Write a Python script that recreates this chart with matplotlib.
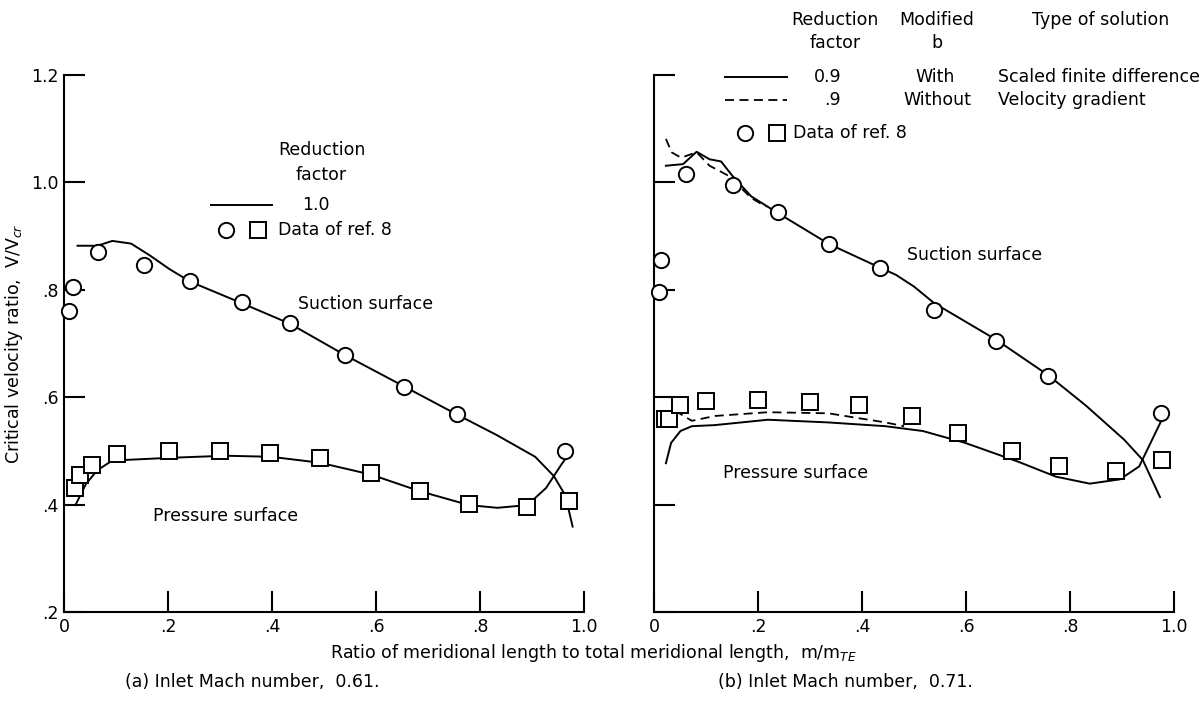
import matplotlib.pyplot as plt
from matplotlib.lines import Line2D

plt.rcParams['font.family'] = ['DejaVu Sans']

# ---- data, panel (a): inlet Mach 0.61 ----
a_circ_x = [0.009, 0.018, 0.065, 0.153, 0.243, 0.342, 0.434, 0.541, 0.654, 0.755, 0.964]
a_circ_y = [0.760, 0.806, 0.871, 0.846, 0.817, 0.778, 0.739, 0.679, 0.619, 0.568, 0.500]
a_sq_x = [0.022, 0.030, 0.054, 0.102, 0.202, 0.300, 0.396, 0.492, 0.590, 0.684, 0.779, 0.891, 0.972]
a_sq_y = [0.431, 0.456, 0.474, 0.495, 0.500, 0.500, 0.496, 0.487, 0.458, 0.425, 0.402, 0.396, 0.406]
a_suc_x = [0.026, 0.064, 0.093, 0.129, 0.165, 0.202, 0.243, 0.342, 0.434, 0.541, 0.654,
           0.755, 0.833, 0.906, 0.942, 0.964, 0.978]
a_suc_y = [0.882, 0.882, 0.891, 0.886, 0.864, 0.839, 0.815, 0.775, 0.737, 0.678, 0.620,
           0.568, 0.529, 0.489, 0.453, 0.417, 0.359]
a_pre_x = [0.022, 0.042, 0.064, 0.093, 0.202, 0.310, 0.398, 0.492, 0.590, 0.684, 0.779,
           0.833, 0.891, 0.927, 0.956, 0.975]
a_pre_y = [0.399, 0.438, 0.464, 0.482, 0.487, 0.491, 0.489, 0.478, 0.456, 0.425, 0.399,
           0.394, 0.399, 0.431, 0.474, 0.500]

# ---- data, panel (b): inlet Mach 0.71 ----
b_circ_x = [0.009, 0.014, 0.062, 0.152, 0.238, 0.337, 0.435, 0.539, 0.658, 0.758, 0.975]
b_circ_y = [0.796, 0.855, 1.015, 0.996, 0.944, 0.885, 0.841, 0.763, 0.704, 0.640, 0.570]
b_sq_x = [0.022, 0.029, 0.051, 0.101, 0.200, 0.300, 0.394, 0.496, 0.585, 0.689, 0.778, 0.888, 0.977]
b_sq_y = [0.559, 0.560, 0.585, 0.592, 0.594, 0.591, 0.585, 0.565, 0.534, 0.499, 0.471, 0.463, 0.483]
b_suc_x = [0.023, 0.056, 0.082, 0.107, 0.129, 0.151, 0.187, 0.238, 0.337, 0.435, 0.465,
           0.500, 0.539, 0.658, 0.758, 0.831, 0.904, 0.940, 0.973]
b_suc_y = [1.031, 1.034, 1.057, 1.043, 1.039, 1.012, 0.974, 0.943, 0.885, 0.841, 0.828,
           0.806, 0.775, 0.707, 0.641, 0.584, 0.521, 0.483, 0.414]
b_sucd_x = [0.023, 0.034, 0.052, 0.082, 0.107, 0.144, 0.187, 0.215]
b_sucd_y = [1.081, 1.056, 1.046, 1.056, 1.031, 1.012, 0.971, 0.955]
b_pre_x = [0.023, 0.033, 0.051, 0.073, 0.117, 0.219, 0.335, 0.445, 0.517, 0.598, 0.700,
           0.773, 0.838, 0.896, 0.933, 0.977]
b_pre_y = [0.477, 0.515, 0.537, 0.546, 0.548, 0.558, 0.553, 0.546, 0.537, 0.515, 0.480,
           0.452, 0.439, 0.447, 0.471, 0.559]
b_pred_x = [0.040, 0.073, 0.117, 0.219, 0.335, 0.445, 0.481]
b_pred_y = [0.575, 0.556, 0.565, 0.572, 0.570, 0.553, 0.546]

xticks = [0, 0.2, 0.4, 0.6, 0.8, 1.0]
xlabels = ['0', '.2', '.4', '.6', '.8', '1.0']
yticks = [0.2, 0.4, 0.6, 0.8, 1.0, 1.2]
ylabels = ['.2', '.4', '.6', '.8', '1.0', '1.2']

fig = plt.figure(figsize=(12.03, 7.04), dpi=100)
axa = fig.add_axes([0.0532, 0.1307, 0.4323, 0.7628])
axb = fig.add_axes([0.5436, 0.1307, 0.4323, 0.7628])

FS = 12.5
mk = dict(ls='none', mfc='white', mec='black', mew=1.4, ms=11, clip_on=False, zorder=3)

for ax in (axa, axb):
    ax.set_xlim(0, 1.0)
    ax.set_ylim(0.2, 1.2)
    ax.spines['top'].set_visible(False)
    ax.spines['right'].set_visible(False)
    ax.spines['left'].set_linewidth(1.5)
    ax.spines['bottom'].set_linewidth(1.5)
    ax.set_xticks(xticks)
    ax.set_xticklabels(xlabels, fontsize=FS)
    ax.set_yticks(yticks)
    ax.tick_params(direction='in', length=15, width=1.5, pad=4)

axa.set_yticklabels(ylabels, fontsize=FS)
axb.set_yticklabels([])

# panel (a)
axa.plot(a_suc_x, a_suc_y, color='black', lw=1.4)
axa.plot(a_pre_x, a_pre_y, color='black', lw=1.4)
axa.plot(a_circ_x, a_circ_y, marker='o', **mk)
axa.plot(a_sq_x, a_sq_y, marker='s', **mk)

axa.text(0.45, 0.574, 'Suction surface', fontsize=FS, va='center', transform=axa.transAxes)
axa.text(0.171, 0.179, 'Pressure surface', fontsize=FS, va='center', transform=axa.transAxes)

# legend (a)
axa.text(0.496, 0.860, 'Reduction', fontsize=FS, ha='center', va='center', transform=axa.transAxes)
axa.text(0.494, 0.814, 'factor', fontsize=FS, ha='center', va='center', transform=axa.transAxes)
axa.add_line(Line2D([0.283, 0.400], [0.758, 0.758], color='black', lw=1.4, transform=axa.transAxes))
axa.text(0.485, 0.758, '1.0', fontsize=FS, ha='center', va='center', transform=axa.transAxes)
axa.plot([0.312], [0.711], marker='o', transform=axa.transAxes, **mk)
axa.plot([0.373], [0.711], marker='s', transform=axa.transAxes, **mk)
axa.text(0.412, 0.711, 'Data of ref. 8', fontsize=FS, va='center', transform=axa.transAxes)

axa.set_ylabel('Critical velocity ratio,  V/V$_{cr}$', fontsize=FS)
axa.yaxis.set_label_coords(-0.075, 0.5)

# panel (b)
axb.plot(b_suc_x, b_suc_y, color='black', lw=1.4)
axb.plot(b_sucd_x, b_sucd_y, color='black', lw=1.3, ls=(0, (5, 3)))
axb.plot(b_pre_x, b_pre_y, color='black', lw=1.4)
axb.plot(b_pred_x, b_pred_y, color='black', lw=1.3, ls=(0, (5, 3)))
axb.plot(b_circ_x, b_circ_y, marker='o', **mk)
axb.plot(b_sq_x, b_sq_y, marker='s', **mk)

axb.text(0.487, 0.665, 'Suction surface', fontsize=FS, va='center', transform=axb.transAxes)
axb.text(0.133, 0.259, 'Pressure surface', fontsize=FS, va='center', transform=axb.transAxes)

# legend (b), drawn above the axes
fig.text(0.694, 0.972, 'Reduction', fontsize=FS, ha='center', va='center')
fig.text(0.694, 0.939, 'factor', fontsize=FS, ha='center', va='center')
fig.text(0.779, 0.972, 'Modified', fontsize=FS, ha='center', va='center')
fig.text(0.779, 0.939, 'b', fontsize=FS, ha='center', va='center')
fig.text(0.915, 0.972, 'Type of solution', fontsize=FS, ha='center', va='center')
fig.add_artist(Line2D([0.603, 0.654], [0.891, 0.891], color='black', lw=1.4))
fig.add_artist(Line2D([0.603, 0.654], [0.858, 0.858], color='black', lw=1.3, ls=(0, (5, 3))))
fig.text(0.688, 0.891, '0.9', fontsize=FS, ha='center', va='center')
fig.text(0.692, 0.858, '.9', fontsize=FS, ha='center', va='center')
fig.text(0.777, 0.891, 'With', fontsize=FS, ha='center', va='center')
fig.text(0.779, 0.858, 'Without', fontsize=FS, ha='center', va='center')
fig.text(0.830, 0.891, 'Scaled finite difference', fontsize=FS, va='center')
fig.text(0.830, 0.858, 'Velocity gradient', fontsize=FS, va='center')
fig.add_artist(Line2D([0.619], [0.811], marker='o', **mk))
fig.add_artist(Line2D([0.646], [0.811], marker='s', **mk))
fig.text(0.659, 0.811, 'Data of ref. 8', fontsize=FS, va='center')

fig.text(0.493, 0.073, 'Ratio of meridional length to total meridional length,  m/m$_{TE}$',
         fontsize=FS, ha='center', va='center')
fig.text(0.2096, 0.031, '(a) Inlet Mach number,  0.61.', fontsize=FS, ha='center', va='center')
fig.text(0.7025, 0.031, '(b) Inlet Mach number,  0.71.', fontsize=FS, ha='center', va='center')

fig.savefig('out.png', dpi=100)
